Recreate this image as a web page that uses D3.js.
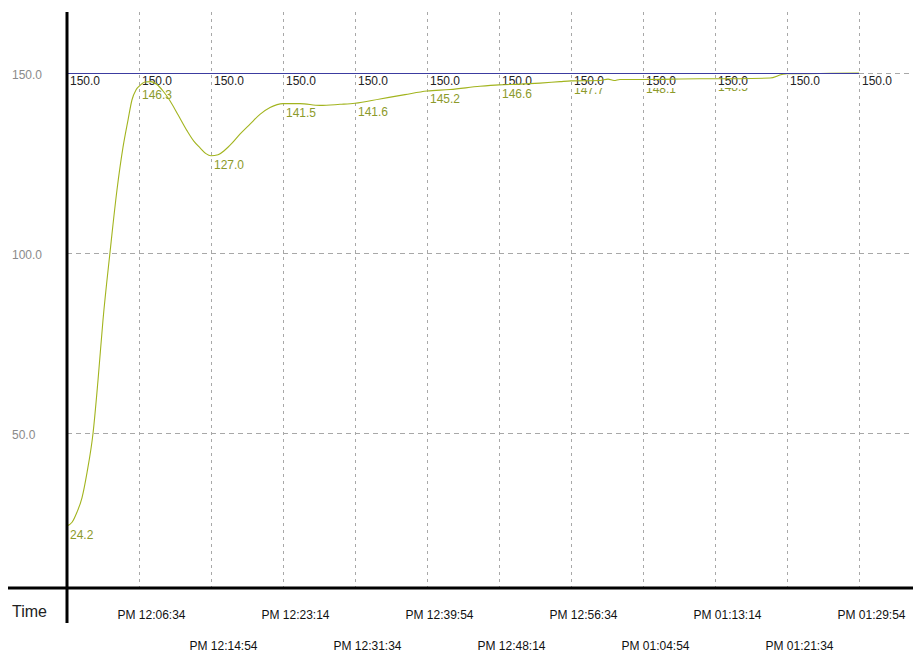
<!DOCTYPE html>
<html>
<head>
<meta charset="utf-8">
<script src="https://cdn.jsdelivr.net/npm/d3@7"></script>
<style>
  html, body { margin: 0; padding: 0; background: #fff; }
  svg { display: block; font-family: "Liberation Sans", Arial, sans-serif; }
</style>
</head>
<body>
<svg id="chart" width="913" height="653"></svg>
<script>
// ---- data ----
const startTime = [11, 58, 14];            // first sample, local clock
const labelOffsets = [0, 500, 1000, 1500, 2000, 2500, 3000, 3500, 4000, 4500, 5000, 5500]; // seconds
const pvLabels = [24.2, 146.3, 127.0, 141.5, 141.6, 145.2, 146.6, 147.7, 148.1, 148.5, 149.7, 150.0];
const spLabels = [150.0, 150.0, 150.0, 150.0, 150.0, 150.0, 150.0, 150.0, 150.0, 150.0, 150.0, 150.0];
const curveOffsets = [0, 35, 69, 104, 139, 181, 215, 250, 299, 347, 389, 424, 451, 479, 500, 542, 583, 625,
  667, 715, 771, 833, 882, 924, 965, 1000, 1049, 1097, 1146, 1201, 1271, 1340, 1410, 1500, 1618, 1757, 1896,
  2000, 2174, 2347, 2500, 2660, 2868, 3000, 3146, 3285, 3424, 3500, 3701, 3757, 3799, 3840, 4000, 4396, 4500,
  4882, 4965, 5000, 5090, 5299, 5500];
const curveValues = [24.2, 25.2, 28.0, 32.0, 39.0, 50.0, 64.5, 81.4, 100.3, 117.5, 129.4, 137.0, 142.5, 145.3,
  146.3, 147.5, 147.6, 146.8, 145.0, 142.3, 138.4, 134.0, 131.0, 129.2, 127.6, 127.0, 127.3, 128.6, 130.5,
  133.0, 135.8, 138.5, 140.4, 141.5, 141.5, 141.0, 141.3, 141.6, 142.8, 144.0, 145.0, 145.4, 146.3, 146.7,
  146.9, 147.2, 147.6, 147.8, 147.9, 148.3, 147.9, 148.2, 148.2, 148.4, 148.4, 148.6, 149.6, 149.8, 149.8,
  149.9, 150.0];
const yTicks = [50, 100, 150];
const axisTitle = "Time";

// ---- helpers ----
const t0 = new Date(2020, 0, 1, startTime[0], startTime[1], startTime[2]);
const toDate = s => new Date(t0.getTime() + s * 1000);
const fmt = d3.timeFormat("%p %I:%M:%S");

const svg = d3.select("#chart");
const x = d3.scaleTime().domain([t0, toDate(5875)]).range([67, 913]);
const y = d3.scaleLinear().domain([50, 150]).range([433, 73]);

// ---- grid ----
const grid = svg.append("g").attr("stroke", "#a8a8a8").attr("stroke-width", 1);
grid.selectAll("line.v").data(labelOffsets.slice(1)).join("line")
  .attr("class", "v")
  .attr("x1", d => Math.round(x(toDate(d))) + 0.5).attr("x2", d => Math.round(x(toDate(d))) + 0.5)
  .attr("y1", 12).attr("y2", 587)
  .attr("stroke-dasharray", "3,4");
grid.selectAll("line.h").data(yTicks).join("line")
  .attr("class", "h")
  .attr("x1", 67).attr("x2", 913)
  .attr("y1", d => Math.round(y(d)) + 0.5).attr("y2", d => Math.round(y(d)) + 0.5)
  .attr("stroke-dasharray", "5,4");

// ---- y tick labels ----
svg.append("g").selectAll("text").data(yTicks).join("text")
  .attr("x", 12).attr("y", d => y(d) + 6)
  .attr("font-size", 12).attr("fill", "#8a8a8a")
  .text(d => d3.format(".1f")(d));

// ---- pv labels ----
svg.append("g").selectAll("text").data(pvLabels).join("text")
  .attr("x", (d, i) => x(toDate(labelOffsets[i])) + 3)
  .attr("y", d => y(d) + 13)
  .attr("font-size", 12).attr("fill", "#8c9a2a")
  .text(d => d3.format(".1f")(d));

// ---- sp labels with white box ----
const spG = svg.append("g").selectAll("g").data(spLabels).join("g")
  .attr("transform", (d, i) => `translate(${x(toDate(labelOffsets[i])) + 2},${y(d) + 2})`);
spG.append("rect").attr("x", 0).attr("y", 0).attr("width", 32).attr("height", 13).attr("fill", "#fff");
spG.append("text").attr("x", 1).attr("y", 10).attr("font-size", 12).attr("fill", "#222")
  .text(d => d3.format(".1f")(d));

// ---- lines ----
const line = d3.line().x(d => x(d[0])).y(d => y(d[1])).curve(d3.curveMonotoneX);
const pvData = curveOffsets.map((s, i) => [toDate(s), curveValues[i]]);
svg.append("path").datum(pvData).attr("d", line)
  .attr("fill", "none").attr("stroke", "#a2b41e").attr("stroke-width", 1.1);
const spData = [[toDate(0), 150], [toDate(5500), 150]];
svg.append("path").datum(spData).attr("d", d3.line().x(d => x(d[0])).y(d => Math.round(y(d[1])) + 0.5))
  .attr("fill", "none").attr("stroke", "#3c3ca0").attr("stroke-width", 1);

// ---- axes ----
svg.append("line").attr("x1", 8).attr("x2", 913).attr("y1", 588).attr("y2", 588)
  .attr("stroke", "#000").attr("stroke-width", 3);
svg.append("line").attr("x1", 67).attr("x2", 67).attr("y1", 12).attr("y2", 623)
  .attr("stroke", "#000").attr("stroke-width", 3);

const xAxis = d3.axisBottom(x)
  .tickValues(labelOffsets.slice(1).map(toDate))
  .tickFormat(fmt).tickSize(0);
const gx = svg.append("g").attr("transform", "translate(0,588)").call(xAxis);
gx.select(".domain").remove();
gx.selectAll(".tick text")
  .attr("font-family", "Liberation Sans, Arial, sans-serif")
  .attr("font-size", 12).attr("fill", "#111")
  .attr("x", 12)
  .attr("dy", null)
  .attr("y", (d, i) => (i % 2 === 0 ? 31 : 62));

svg.append("text").attr("x", 12).attr("y", 617).attr("font-size", 16).attr("fill", "#222").text(axisTitle);
</script>
</body>
</html>
